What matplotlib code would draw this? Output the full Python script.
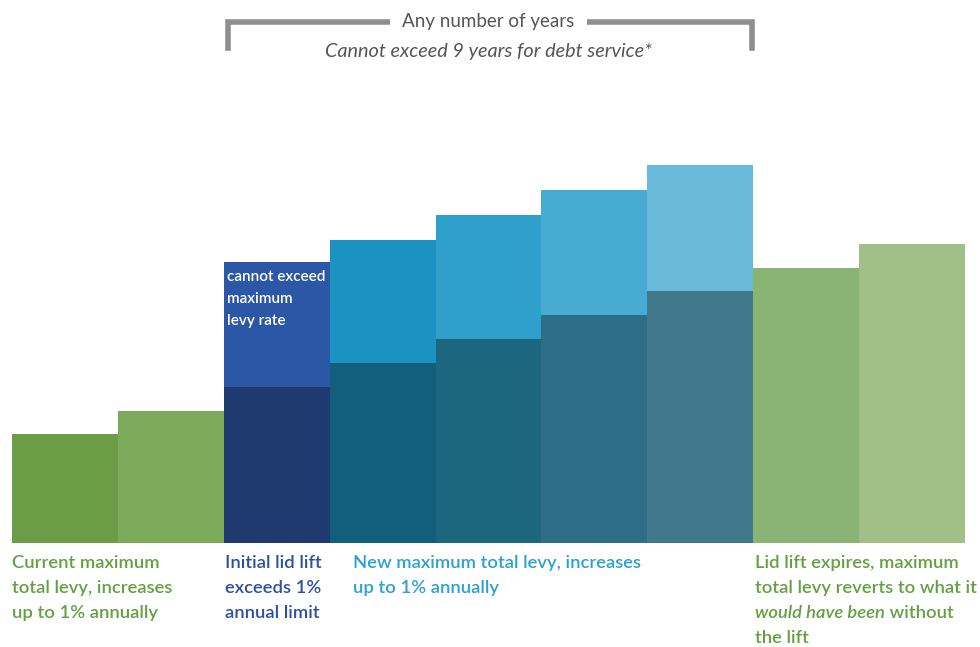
import matplotlib
matplotlib.use("Agg")
import matplotlib.pyplot as plt

plt.rcParams['font.family'] = ['Lato', 'DejaVu Sans']

# bar heights (pixels above the baseline)
totals = [109, 132, 281, 303, 328, 353, 378, 275, 299]
lower = [109, 132, 156, 180, 204, 228, 252, 275, 299]
lower_colors = ['#6a9d45', '#7aaa5a', '#1f3a6e', '#125e7b', '#1d6680',
                '#2e6d88', '#41788c', '#8ab473', '#a0c088']
upper_colors = [None, None, '#2b57a6', '#1a92c2', '#2f9fcb',
                '#47abd2', '#68b9da', None, None]

label_green1 = ["Current maximum", "total levy, increases", "up to 1% annually"]
label_blue = ["Initial lid lift", "exceeds 1%", "annual limit"]
label_lblue = ["New maximum total levy, increases", "up to 1% annually"]
label_inner = ["cannot exceed", "maximum", "levy rate"]
bracket_top = "Any number of years"
bracket_sub = "Cannot exceed 9 years for debt service*"

fig = plt.figure(figsize=(9.8, 6.47), dpi=100)
ax = fig.add_axes([12/980, 104/647, 953/980, 543/647])
ax.set_xlim(0, 9)
ax.set_ylim(0, 543)
ax.axis('off')

x = range(len(totals))
ax.bar(x, lower, width=1.0, align='edge', color=lower_colors, linewidth=0)
ups = [t - l for t, l in zip(totals, lower)]
for i in x:
    if ups[i] > 0:
        ax.bar(i, ups[i], bottom=lower[i], width=1.0, align='edge',
               color=upper_colors[i], linewidth=0)

fs = 13.2
green = '#62a040'
base = [-25, -50, -75, -100]


def lines(x0, texts, color):
    for k, s in enumerate(texts):
        ax.text(x0, base[k], s, color=color, fontsize=fs, va='baseline', ha='left',
                fontweight='semibold', clip_on=False)


lines(0.0, label_green1, green)
lines(2.01, label_blue, '#2c4fa3')
lines(3.22, label_lblue, '#2aa0d4')

# inner white text
for k, s in enumerate(label_inner):
    ax.text(2.03, 262 - k * 22, s, color='white', fontsize=11, va='baseline', ha='left',
            fontweight='semibold')

# last label with mixed italic
x0 = 7.02
lines(x0, ["Lid lift expires, maximum", "total levy reverts to what it"], green)
t_it = ax.text(x0, base[2], "would have been", color=green, fontsize=fs, style='italic',
               fontweight='semibold', va='baseline', ha='left', clip_on=False)
fig.canvas.draw()
bb = t_it.get_window_extent()
x_end = ax.transData.inverted().transform((bb.x1, bb.y0))[0]
ax.text(x_end, base[2], " without", color=green, fontsize=fs, va='baseline', ha='left',
        fontweight='semibold', clip_on=False)
ax.text(x0, base[3], "the lift", color=green, fontsize=fs, va='baseline', ha='left',
        fontweight='semibold', clip_on=False)

# bracket
gray = '#8e8e8e'
ax.plot([2.04, 2.04, 6.99, 6.99], [495, 521, 521, 495], color=gray, lw=4,
        solid_joinstyle='miter', clip_on=False)
ax.text(4.5, 521, bracket_top, color='#555555', fontsize=13.5, ha='center', va='center',
        bbox=dict(facecolor='white', edgecolor='none', pad=9), clip_on=False)
ax.text(4.5, 491, bracket_sub, color='#555555', fontsize=14.3, style='italic',
        ha='center', va='center', clip_on=False)

fig.savefig('out.png', dpi=100, facecolor='white')
